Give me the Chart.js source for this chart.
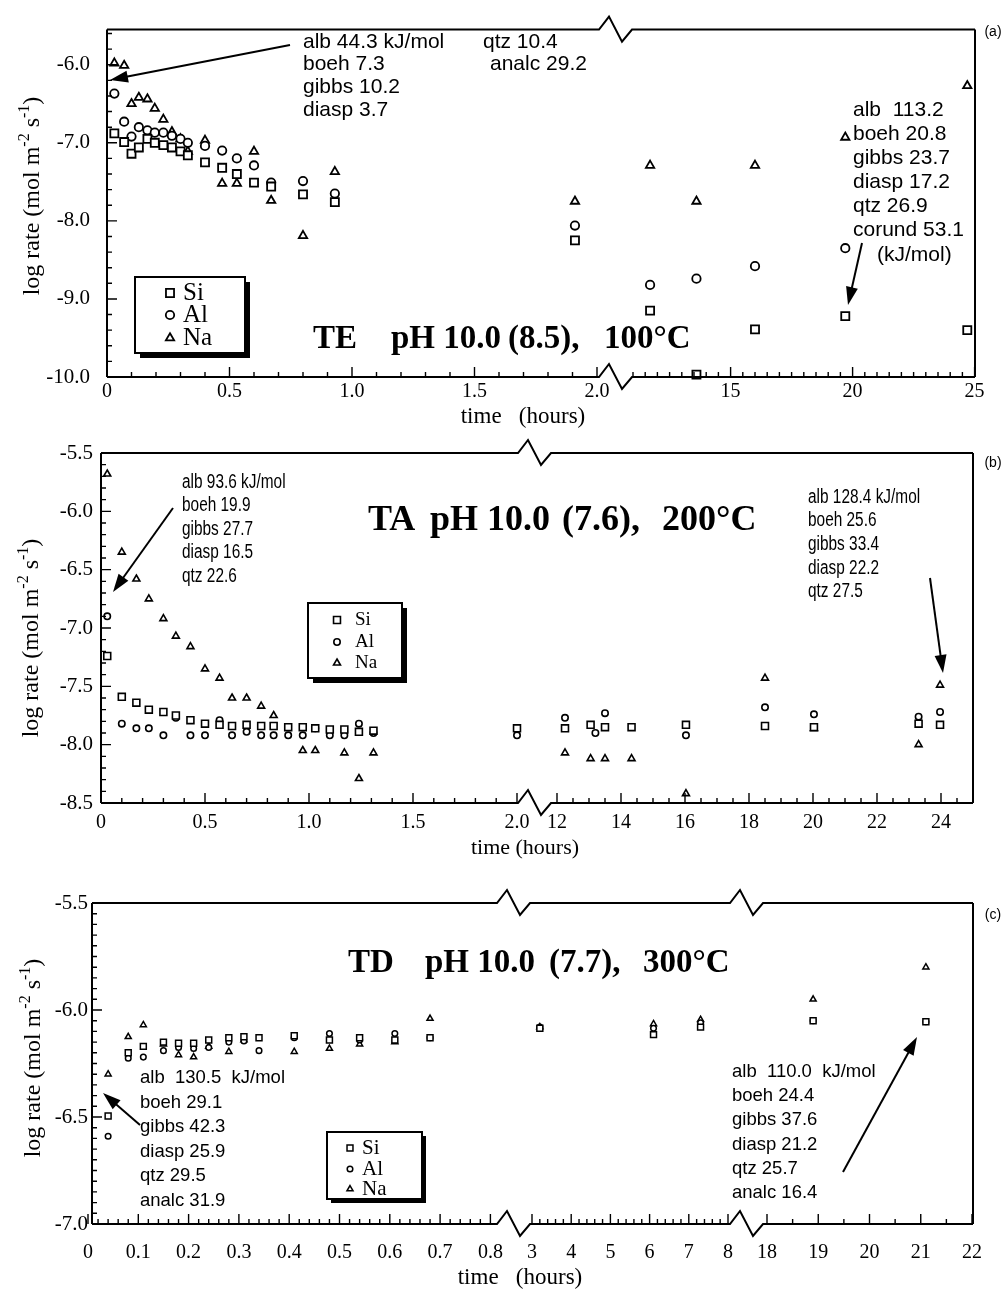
<!DOCTYPE html>
<html>
<head>
<meta charset="utf-8">
<script src="https://cdn.jsdelivr.net/npm/chart.js@4.4.1/dist/chart.umd.min.js"></script>
<style>
  html, body { margin: 0; padding: 0; background: #fff; }
  #page { position: relative; width: 1003px; height: 1295px; overflow: hidden; }
  canvas { position: absolute; left: 0; }
</style>
</head>
<body>
<div id="page">
  <canvas id="chartTE" width="1003" height="430" style="top:0px"></canvas>
  <canvas id="chartTA" width="1003" height="435" style="top:430px"></canvas>
  <canvas id="chartTD" width="1003" height="430" style="top:865px"></canvas>
</div>
<script>
// ---- (a) TE  pH 10.0 (8.5), 100°C ----
const teHours = [0.03, 0.07, 0.10, 0.13, 0.165, 0.195, 0.23, 0.265, 0.30, 0.33, 0.40, 0.47, 0.53, 0.60, 0.67, 0.80, 0.93, 1.91, 11.7, 13.6, 16.0, 19.7, 24.7];
const teSi = [-6.88, -6.99, -7.14, -7.06, -6.95, -7.00, -7.03, -7.06, -7.11, -7.16, -7.25, -7.32, -7.40, -7.51, -7.56, -7.66, -7.76, -8.25, -9.15, -9.97, -9.39, -9.22, -9.40];
const teAl = [-6.37, -6.73, -6.92, -6.80, -6.84, -6.87, -6.87, -6.91, -6.95, -7.00, -7.04, -7.10, -7.20, -7.29, -7.51, -7.49, -7.65, -8.06, -8.82, -8.74, -8.58, -8.35, null];
const teNa = [-5.98, -6.01, -6.50, -6.42, -6.44, -6.56, -6.70, -6.86, -6.95, -7.11, -6.97, -7.52, -7.52, -7.11, -7.74, -8.19, -7.37, -7.75, -7.29, -7.75, -7.29, -6.93, -6.27];
const teTickHours = [0, 0.5, 1.0, 1.5, 2.0, 15, 20, 25];
const teTickLabels = ['0', '0.5', '1.0', '1.5', '2.0', '15', '20', '25'];
const teRateTicks = [-6, -7, -8, -9, -10];

// ---- (b) TA  pH 10.0 (7.6), 200°C ----
const taHours = [0.03, 0.10, 0.17, 0.23, 0.30, 0.36, 0.43, 0.50, 0.57, 0.63, 0.70, 0.77, 0.83, 0.90, 0.97, 1.03, 1.10, 1.17, 1.24, 1.31, 2.0,
                 12.25, 13.05, 13.2, 13.5, 14.33, 16.03, 18.5, 20.03, 23.3, 23.97];
const taSi = [-7.24, -7.59, -7.64, -7.70, -7.72, -7.75, -7.79, -7.82, -7.83, -7.84, -7.83, -7.84, -7.84, -7.85, -7.85, -7.86, -7.87, -7.87, -7.89, -7.88, -7.86,
              -7.86, -7.83, null, -7.85, -7.85, -7.83, -7.84, -7.85, -7.82, -7.83];
const taAl = [-6.90, -7.82, -7.86, -7.86, -7.92, -7.77, -7.92, -7.92, -7.79, -7.92, -7.89, -7.92, -7.92, -7.92, -7.92, -7.86, -7.92, -7.92, -7.82, -7.90, -7.92,
              -7.77, null, -7.90, -7.73, null, -7.92, -7.68, -7.74, -7.76, -7.72];
const taNa = [-5.68, -6.35, -6.58, -6.75, -6.92, -7.07, -7.16, -7.35, -7.43, -7.60, -7.60, -7.67, -7.75, null, -8.05, -8.05, null, -8.07, -8.29, -8.07, null,
              -8.07, -8.12, null, -8.12, -8.12, -8.42, -7.43, -7.86, -8.00, -7.49];
const taTickHours = [0, 0.5, 1.0, 1.5, 2.0, 12, 14, 16, 18, 20, 22, 24];
const taTickLabels = ['0', '0.5', '1.0', '1.5', '2.0', '12', '14', '16', '18', '20', '22', '24'];
const taRateTicks = [-5.5, -6, -6.5, -7, -7.5, -8, -8.5];

// ---- (c) TD  pH 10.0 (7.7), 300°C ----
const tdHours = [0.04, 0.08, 0.11, 0.15, 0.18, 0.21, 0.24, 0.28, 0.31, 0.34, 0.41, 0.48, 0.54, 0.61, 0.68, 3.2, 6.1, 7.3, 18.9, 21.1];
const tdSi = [-6.495, -6.20, -6.17, -6.15, -6.155, -6.155, -6.14, -6.13, -6.125, -6.13, -6.12, -6.14, -6.13, -6.14, -6.13, -6.085, -6.115, -6.08, -6.05, -6.055];
const tdAl = [-6.59, -6.225, -6.22, -6.19, -6.175, -6.18, -6.175, -6.15, -6.145, -6.19, -6.13, -6.11, -6.14, -6.11, -6.13, -6.08, -6.085, -6.06, -6.05, -6.055];
const tdNa = [-6.30, -6.125, -6.07, -6.16, -6.21, -6.22, -6.17, -6.195, -6.14, null, -6.195, -6.18, -6.16, -6.15, -6.04, -6.08, -6.065, -6.045, -5.95, -5.80];
const tdTickHours = [0, 0.1, 0.2, 0.3, 0.4, 0.5, 0.6, 0.7, 0.8, 3, 4, 5, 6, 7, 8, 18, 19, 20, 21, 22];
const tdTickLabels = ['0', '0.1', '0.2', '0.3', '0.4', '0.5', '0.6', '0.7', '0.8', '3', '4', '5', '6', '7', '8', '18', '19', '20', '21', '22'];
const tdRateTicks = [-5.5, -6, -6.5, -7];

const SERIF = '"Liberation Serif", "Times New Roman", serif';
const SANS = '"Liberation Sans", Arial, sans-serif';

// range helper for tick marks
function steps(a, b, step) {
    const out = [];
    for (let i = 0; ; i++) {
        const v = a + i * step;
        if (v > b + 1e-9) break;
        out.push(Math.round(v * 1000) / 1000);
    }
    return out;
}

// broken time axis: hours -> axis units
function makeMapper(segs) {
    return t => {
        for (const s of segs) {
            if (t >= s.lo - 1e-9 && t <= s.hi + 1e-9) return s.at + (t - s.t0) * s.k;
        }
        return NaN;
    };
}

const panels = [
    {
        canvas: 'chartTE', top: 0, height: 430,
        area: { left: 107, top: 20, right: 975, bottom: 377 },
        yMin: -10, yMax: -5.55, xMin: 0, xMax: 868,
        hours: teHours, si: teSi, al: teAl, na: teNa,
        tickHours: teTickHours, tickLabels: teTickLabels, rateTicks: teRateTicks,
        segs: [{ lo: 0, hi: 2.0, t0: 0, at: 0, k: 245 }, { lo: 11, hi: 25, t0: 11, at: 526, k: 24.4 }],
        breaks: [492],
        xMinor: [...steps(0, 2.0, 0.1), ...steps(11, 25, 0.5)],
        yMinor: steps(-10, -5.6, 0.2),
        xPad: 3, yPad: 17,
        radius: [5.7, 4.2, 4.8], bw: 1.8,
        yTitle: { x: 39, y: 196 },
        xTitle: { text: 'time   (hours)', x: 523, y: 417 },
        title: { y: 348, size: 33, parts: [['TE', 313], ['pH 10.0', 391], ['(8.5),', 508], ['100°C', 604]] },
        notes: [
            { x: 303, y: 42, dy: 22.7, size: 21, sx: 1, lines: ['alb 44.3 kJ/mol', 'boeh 7.3', 'gibbs 10.2', 'diasp 3.7'] },
            { x: 483, y: 42, dy: 22, size: 21, sx: 1, lines: ['qtz 10.4'] },
            { x: 490, y: 64, dy: 22, size: 21, sx: 1, lines: ['analc 29.2'] },
            { x: 853, y: 110, dy: 24, size: 21, sx: 1, lines: ['alb  113.2', 'boeh 20.8', 'gibbs 23.7', 'diasp 17.2', 'qtz 26.9', 'corund 53.1'] },
            { x: 877, y: 255, dy: 24, size: 21, sx: 1, lines: ['(kJ/mol)'] }
        ],
        arrows: [[290, 45, 110, 80], [862, 243, 848, 305]],
        legend: { x: 135, y: 277, w: 110, h: 76, sh: 5, mx: 170, tx: 183, rows: [293, 315, 338], size: 25 },
        letter: { text: '(a)', x: 993, y: 32 }
    },
    {
        canvas: 'chartTA', top: 430, height: 435,
        area: { left: 101, top: 453, right: 973, bottom: 803 },
        yMin: -8.5, yMax: -5.5, xMin: 0, xMax: 872,
        hours: taHours, si: taSi, al: taAl, na: taNa,
        tickHours: taTickHours, tickLabels: taTickLabels, rateTicks: taRateTicks,
        segs: [{ lo: 0, hi: 2.0, t0: 0, at: 0, k: 208 }, { lo: 11.8, hi: 25, t0: 12, at: 456, k: 32 }],
        breaks: [417],
        xMinor: [...steps(0, 2.0, 0.1), ...steps(12, 25, 0.5)],
        yMinor: steps(-8.5, -5.5, 0.1),
        xPad: 8, yPad: 8,
        radius: [4.9, 3.2, 4.0], bw: 1.6,
        yTitle: { x: 38, y: 638 },
        xTitle: { text: 'time (hours)', x: 525, y: 848 },
        title: { y: 530, size: 36, parts: [['TA', 368], ['pH 10.0', 430], ['(7.6),', 562], ['200°C', 662]] },
        notes: [
            { x: 182, y: 482, dy: 23.6, size: 20, sx: 0.77, lines: ['alb 93.6 kJ/mol', 'boeh 19.9', 'gibbs 27.7', 'diasp 16.5', 'qtz 22.6'] },
            { x: 808, y: 497, dy: 23.7, size: 20, sx: 0.77, lines: ['alb 128.4 kJ/mol', 'boeh 25.6', 'gibbs 33.4', 'diasp 22.2', 'qtz 27.5'] }
        ],
        arrows: [[173, 508, 113, 592], [930, 578, 943, 673]],
        legend: { x: 308, y: 603, w: 94, h: 75, sh: 5, mx: 337, tx: 355, rows: [620, 642, 663], size: 19 },
        letter: { text: '(b)', x: 993, y: 463 }
    },
    {
        canvas: 'chartTD', top: 865, height: 430,
        area: { left: 92, top: 903, right: 973, bottom: 1224 },
        yMin: -7.0, yMax: -5.5, xMin: 4, xMax: 885,
        hours: tdHours, si: tdSi, al: tdAl, na: tdNa,
        tickHours: tdTickHours, tickLabels: tdTickLabels, rateTicks: tdRateTicks,
        segs: [{ lo: 0, hi: 0.8, t0: 0, at: 0, k: 503 }, { lo: 2.87, hi: 8.05, t0: 3, at: 444, k: 39.2 }, { lo: 17.86, hi: 22, t0: 18, at: 679, k: 51.25 }],
        breaks: [409, 642],
        xMinor: [...steps(0.02, 0.8, 0.02), ...steps(3, 8, 0.2), ...steps(18, 22, 0.5)],
        yMinor: steps(-7.0, -5.5, 0.05),
        xPad: 17, yPad: 4,
        radius: [4.2, 2.8, 3.5], bw: 1.5,
        yTitle: { x: 40, y: 1058 },
        xTitle: { text: 'time   (hours)', x: 520, y: 1278 },
        title: { y: 972, size: 33, parts: [['TD', 348], ['pH 10.0', 425], ['(7.7),', 549], ['300°C', 643]] },
        notes: [
            { x: 140, y: 1078, dy: 24.6, size: 18.5, sx: 1, lines: ['alb  130.5  kJ/mol', 'boeh 29.1', 'gibbs 42.3', 'diasp 25.9', 'qtz 29.5', 'analc 31.9'] },
            { x: 732, y: 1072, dy: 24.2, size: 18.5, sx: 1, lines: ['alb  110.0  kJ/mol', 'boeh 24.4', 'gibbs 37.6', 'diasp 21.2', 'qtz 25.7', 'analc 16.4'] }
        ],
        arrows: [[140, 1125, 103, 1093], [843, 1172, 917, 1037]],
        legend: { x: 327, y: 1132, w: 95, h: 67, sh: 4, mx: 350, tx: 362, rows: [1148, 1169, 1189], size: 21 },
        letter: { text: '(c)', x: 993, y: 915 }
    }
];

const styles = ['rect', 'circle', 'triangle'];
const names = ['Si', 'Al', 'Na'];

function marker(ctx, style, x, y, r, bw) {
    ctx.save();
    ctx.fillStyle = '#fff';
    ctx.strokeStyle = '#000';
    ctx.lineWidth = bw;
    ctx.beginPath();
    if (style === 'rect') {
        const s = r * Math.SQRT1_2;
        ctx.rect(x - s, y - s, 2 * s, 2 * s);
    } else if (style === 'circle') {
        ctx.arc(x, y, r, 0, Math.PI * 2);
    } else {
        ctx.moveTo(x, y - r);
        ctx.lineTo(x + r * 0.866, y + r * 0.5);
        ctx.lineTo(x - r * 0.866, y + r * 0.5);
        ctx.closePath();
    }
    ctx.fill();
    ctx.stroke();
    ctx.restore();
}

function arrow(ctx, x1, y1, x2, y2) {
    const a = Math.atan2(y2 - y1, x2 - x1);
    const len = 18, hw = 6;
    const c = Math.cos(a), s = Math.sin(a);
    ctx.lineWidth = 2;
    ctx.beginPath();
    ctx.moveTo(x1, y1);
    ctx.lineTo(x2 - c * len * 0.7, y2 - s * len * 0.7);
    ctx.stroke();
    ctx.beginPath();
    ctx.moveTo(x2, y2);
    ctx.lineTo(x2 - c * len - s * hw, y2 - s * len + c * hw);
    ctx.lineTo(x2 - c * len + s * hw, y2 - s * len - c * hw);
    ctx.closePath();
    ctx.fill();
}

function yTitle(ctx, bx, cy) {
    const size = 24, sup = 16;
    const parts = [['log rate (mol m', 0], ['-2', 1], [' s', 0], ['-1', 1], [')', 0]];
    ctx.save();
    ctx.translate(bx, cy);
    ctx.rotate(-Math.PI / 2);
    ctx.textBaseline = 'alphabetic';
    ctx.textAlign = 'left';
    let total = 0;
    const widths = parts.map(([t, up]) => {
        ctx.font = (up ? sup : size) + 'px ' + SERIF;
        const w = ctx.measureText(t).width;
        total += w;
        return w;
    });
    let x = -total / 2;
    parts.forEach(([t, up], i) => {
        ctx.font = (up ? sup : size) + 'px ' + SERIF;
        ctx.fillText(t, x, up ? -10 : 0);
        x += widths[i];
    });
    ctx.restore();
}

function makeDecor(p, toX) {
    return {
        id: 'decor',
        afterDraw(chart) {
            const ctx = chart.ctx;
            const xs = chart.scales.x, ys = chart.scales.y;
            const { left, right, top, bottom } = chart.chartArea;
            ctx.save();
            ctx.strokeStyle = '#000';
            ctx.fillStyle = '#000';

            // frame with break marks
            ctx.lineWidth = 2;
            const zig = p.breaks.map(b => xs.getPixelForValue(b));
            const edge = y => {
                ctx.beginPath();
                ctx.moveTo(left, y);
                zig.forEach(bx => {
                    ctx.lineTo(bx, y);
                    ctx.lineTo(bx + 10, y - 13);
                    ctx.lineTo(bx + 23, y + 12);
                    ctx.lineTo(bx + 33, y);
                });
                ctx.lineTo(right, y);
                ctx.stroke();
            };
            edge(top);
            edge(bottom);
            ctx.beginPath();
            ctx.moveTo(left, top); ctx.lineTo(left, bottom);
            ctx.moveTo(right, top); ctx.lineTo(right, bottom);
            ctx.stroke();

            // inward tick marks
            ctx.lineWidth = 1.4;
            ctx.beginPath();
            p.xMinor.forEach(t => {
                const x = xs.getPixelForValue(toX(t));
                ctx.moveTo(x, bottom); ctx.lineTo(x, bottom - 5);
            });
            p.tickHours.forEach(t => {
                const x = xs.getPixelForValue(toX(t));
                ctx.moveTo(x, bottom); ctx.lineTo(x, bottom - 10);
            });
            p.yMinor.forEach(v => {
                const y = ys.getPixelForValue(v);
                ctx.moveTo(left, y); ctx.lineTo(left + 5, y);
            });
            p.rateTicks.forEach(v => {
                const y = ys.getPixelForValue(v);
                ctx.moveTo(left, y); ctx.lineTo(left + 10, y);
            });
            ctx.stroke();

            // page coordinates from here
            ctx.translate(0, -p.top);

            // legend box with drop shadow
            const L = p.legend;
            ctx.fillRect(L.x + L.sh, L.y + L.sh, L.w, L.h);
            ctx.fillStyle = '#fff';
            ctx.fillRect(L.x, L.y, L.w, L.h);
            ctx.lineWidth = 2;
            ctx.strokeRect(L.x, L.y, L.w, L.h);
            ctx.fillStyle = '#000';
            ctx.font = L.size + 'px ' + SERIF;
            ctx.textBaseline = 'middle';
            ctx.textAlign = 'left';
            L.rows.forEach((ry, i) => {
                marker(ctx, styles[i], L.mx, ry, p.radius[i], p.bw);
                ctx.fillText(names[i], L.tx, ry);
            });

            // annotation text
            p.notes.forEach(n => {
                ctx.font = n.size + 'px ' + SANS;
                n.lines.forEach((line, i) => {
                    ctx.save();
                    ctx.translate(n.x, n.y + i * n.dy);
                    ctx.scale(n.sx, 1);
                    ctx.fillText(line, 0, 0);
                    ctx.restore();
                });
            });

            p.arrows.forEach(a => arrow(ctx, a[0], a[1], a[2], a[3]));

            // panel title
            ctx.font = 'bold ' + p.title.size + 'px ' + SERIF;
            ctx.textBaseline = 'alphabetic';
            p.title.parts.forEach(([t, x]) => ctx.fillText(t, x, p.title.y));

            // axis titles
            ctx.font = (p.xTitle.text.indexOf('   ') > 0 ? 23 : 22) + 'px ' + SERIF;
            ctx.textAlign = 'center';
            ctx.textBaseline = 'middle';
            ctx.fillText(p.xTitle.text, p.xTitle.x, p.xTitle.y);
            yTitle(ctx, p.yTitle.x, p.yTitle.y);

            ctx.font = '14px ' + SANS;
            ctx.textAlign = 'center';
            ctx.textBaseline = 'middle';
            ctx.fillText(p.letter.text, p.letter.x, p.letter.y);
            ctx.restore();
        }
    };
}

panels.forEach(p => {
    const toX = makeMapper(p.segs);
    const datasets = [p.si, p.al, p.na].map((vals, k) => ({
        label: names[k],
        data: p.hours.map((t, i) => ({ x: toX(t), y: vals[i] })).filter(d => d.y !== null),
        pointStyle: styles[k],
        pointRadius: p.radius[k],
        pointBorderWidth: p.bw,
        pointBackgroundColor: '#fff',
        pointBorderColor: '#000',
        showLine: false,
        clip: false
    }));

    new Chart(document.getElementById(p.canvas), {
        type: 'scatter',
        data: { datasets: datasets },
        options: {
            responsive: false,
            animation: false,
            events: [],
            layout: {
                autoPadding: false,
                padding: { left: 0, top: p.area.top - p.top, right: 1003 - p.area.right, bottom: 0 }
            },
            plugins: { legend: { display: false }, tooltip: { enabled: false } },
            scales: {
                x: {
                    type: 'linear', min: p.xMin, max: p.xMax,
                    grid: { display: false, drawTicks: false },
                    border: { display: false },
                    ticks: {
                        autoSkip: false, maxRotation: 0, padding: p.xPad, color: '#000',
                        font: { family: SERIF, size: 20 },
                        callback: (v, i) => p.tickLabels[i]
                    },
                    afterBuildTicks: s => { s.ticks = p.tickHours.map(t => ({ value: toX(t) })); },
                    afterFit: s => { s.height = p.top + p.height - p.area.bottom; }
                },
                y: {
                    type: 'linear', min: p.yMin, max: p.yMax,
                    grid: { display: false, drawTicks: false },
                    border: { display: false },
                    ticks: {
                        autoSkip: false, padding: p.yPad, color: '#000',
                        font: { family: SERIF, size: 21 },
                        callback: v => v.toFixed(1)
                    },
                    afterBuildTicks: s => { s.ticks = p.rateTicks.map(v => ({ value: v })); },
                    afterFit: s => { s.width = p.area.left; }
                }
            }
        },
        plugins: [makeDecor(p, toX)]
    });
});
</script>
</body>
</html>
